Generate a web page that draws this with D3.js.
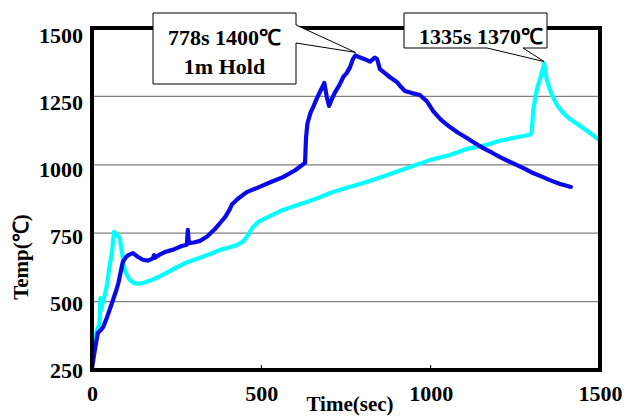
<!DOCTYPE html>
<html>
<head>
<meta charset="utf-8">
<script src="https://cdn.jsdelivr.net/npm/d3@7"></script>
<style>
  html, body { margin: 0; padding: 0; background: #fff; }
  svg { display: block; }
  text { font-family: "Liberation Serif", "Times New Roman", serif; font-weight: bold; fill: #000; }
</style>
</head>
<body>
<svg id="chart" width="624" height="416"></svg>
<script>
// Heating run 1 (blue): time in s, temperature in °C
const run1Time = [0, 8, 17, 25, 33, 45, 59, 70, 78, 85, 91, 100, 107, 121, 136, 150, 165, 180, 183, 186,
  200, 215, 240, 265, 280, 283, 286, 300, 319, 340, 363, 380, 393, 407, 413, 430, 457, 500, 530, 564,
  600, 629, 632, 636, 645, 653, 663, 673, 686, 693, 700, 708, 718, 730, 742, 752, 762, 770, 778, 790,
  805, 821, 835, 842, 850, 865, 880, 900, 912, 924, 945, 968, 989, 1008, 1030, 1057, 1080, 1107, 1130,
  1155, 1180, 1205, 1230, 1255, 1280, 1302, 1330, 1352, 1380, 1414];
const run1Temp = [257, 320, 385, 395, 407, 445, 495, 535, 568, 610, 645, 662, 670, 677, 663, 653, 650, 658, 670, 660,
  672, 681, 690, 703, 708, 762, 714, 716, 722, 738, 765, 790, 809, 838, 855, 875, 900, 922, 938, 955,
  980, 1007, 1100, 1150, 1190, 1211, 1240, 1266, 1299, 1250, 1215, 1240, 1266, 1290, 1321, 1335, 1357, 1385, 1400, 1393,
  1386, 1377, 1392, 1386, 1350, 1335, 1320, 1303, 1285, 1270, 1262, 1255, 1232, 1195, 1165, 1138, 1118, 1098, 1080,
  1061, 1045, 1028, 1013, 999, 984, 970, 956, 944, 931, 919];

// Heating run 2 (cyan)
const run2Time = [0, 3, 10, 15, 22, 25, 27, 33, 38, 45, 50, 59, 65, 72, 80, 83, 86, 89, 93, 97,
  104, 112, 124, 136, 155, 177, 200, 224, 250, 275, 300, 325, 357, 378, 405, 428, 445, 457, 466, 476,
  490, 501, 530, 564, 600, 634, 670, 703, 750, 811, 870, 939, 1000, 1057, 1107, 1155, 1205, 1250, 1293, 1298,
  1303, 1313, 1328, 1335, 1343, 1352, 1362, 1375, 1392, 1410, 1432, 1455, 1475, 1500];
const run2Temp = [300, 349, 380, 396, 420, 513, 470, 505, 525, 565, 615, 680, 755, 748, 735, 725, 700, 677, 640, 615,
  595, 579, 568, 565, 570, 579, 592, 608, 625, 641, 652, 663, 678, 689, 698, 707, 718, 736, 755, 773,
  790, 798, 815, 835, 850, 864, 880, 897, 915, 937, 962, 992, 1018, 1036, 1058, 1070, 1088, 1100, 1110, 1116,
  1200, 1273, 1335, 1370, 1310, 1275, 1245, 1215, 1189, 1168, 1150, 1130, 1112, 1088];

const xTicks = [0, 500, 1000, 1500];
const yTicks = [250, 500, 750, 1000, 1250, 1500];
const gridTemps = [500, 750, 1000, 1250];

const xLabel = "Time(sec)";
const yLabel = "Temp(\u2103)";

// Callouts: the point they mark and their text lines
const callouts = [
  { t: 778, temp: 1400, lines: ["778s 1400\u2103", "1m Hold"] },
  { t: 1335, temp: 1370, lines: ["1335s 1370\u2103"] }
];

const svg = d3.select("#chart");
const plotL = 92, plotR = 600, plotT = 28, plotB = 370;

const x = d3.scaleLinear().domain([0, 1500]).range([plotL, plotR]);
const y = d3.scaleLinear().domain([250, 1500]).range([plotB, plotT]);
// tick labels sit slightly tighter than the gridlines
const yLab = d3.scaleLinear().domain([250, 1500]).range([plotB, 35]);

// gridlines
svg.append("g").selectAll("line").data(gridTemps).join("line")
  .attr("x1", plotL).attr("x2", plotR)
  .attr("y1", d => y(d)).attr("y2", d => y(d))
  .attr("stroke", "#808080").attr("stroke-width", 1.3);

// small inward ticks on the time axis
svg.append("g").selectAll("line").data(xTicks.slice(1, -1)).join("line")
  .attr("x1", d => x(d)).attr("x2", d => x(d))
  .attr("y1", plotB).attr("y2", plotB - 5)
  .attr("stroke", "#000").attr("stroke-width", 1);

// temperature curves
const line = d3.line().x(d => x(d[0])).y(d => y(d[1]));
const run2 = run2Time.map((t, i) => [t, run2Temp[i]]);
const run1 = run1Time.map((t, i) => [t, run1Temp[i]]);

svg.append("path").datum(run2).attr("d", line)
  .attr("fill", "none").attr("stroke", "#00ffff").attr("stroke-width", 4.2)
  .attr("stroke-linejoin", "round").attr("stroke-linecap", "round");
svg.append("path").datum(run1).attr("d", line)
  .attr("fill", "none").attr("stroke", "#0a0ae8").attr("stroke-width", 4.2)
  .attr("stroke-linejoin", "round").attr("stroke-linecap", "round");

// frame
svg.append("rect").attr("x", plotL).attr("y", plotT)
  .attr("width", plotR - plotL).attr("height", plotB - plotT)
  .attr("fill", "none").attr("stroke", "#000").attr("stroke-width", 4);

// axis tick labels
const yAxis = svg.append("g").attr("transform", `translate(${plotL},0)`)
  .call(d3.axisLeft(yLab).tickValues(yTicks).tickSize(0).tickPadding(9).tickFormat(d3.format("d")));
const xAxis = svg.append("g").attr("transform", `translate(0,${plotB})`)
  .call(d3.axisBottom(x).tickValues(xTicks).tickSize(0).tickPadding(15).tickFormat(d3.format("d")));
[yAxis, xAxis].forEach(g => {
  g.select(".domain").remove();
  g.selectAll("text").attr("font-size", 22).attr("font-family", "Liberation Serif, serif").attr("font-weight", "bold");
});

// axis titles
svg.append("text").attr("x", 350).attr("y", 411).attr("text-anchor", "middle")
  .attr("font-size", 21).text(xLabel);
svg.append("text").attr("transform", "translate(28,257) rotate(-90)").attr("text-anchor", "middle")
  .attr("font-size", 21).text(yLabel);

// callout 1: box with a wedge on its right side
{
  const c = callouts[0];
  const tx = x(c.t), ty = y(c.temp) - 3;
  const bx0 = 153, bx1 = 296, by0 = 13, by1 = 84;
  svg.append("path")
    .attr("d", `M${bx0},${by0}H${bx1}V25L${tx},${ty}L${bx1},43V${by1}H${bx0}Z`)
    .attr("fill", "#fff").attr("stroke", "#000").attr("stroke-width", 1);
  svg.append("text").attr("x", (bx0 + bx1) / 2).attr("y", 45).attr("text-anchor", "middle")
    .attr("font-size", 22).text(c.lines[0]);
  svg.append("text").attr("x", (bx0 + bx1) / 2).attr("y", 74).attr("text-anchor", "middle")
    .attr("font-size", 22).text(c.lines[1]);
}
// callout 2: box with a wedge under it
{
  const c = callouts[1];
  const tx = x(c.t), ty = y(c.temp) - 2;
  const bx0 = 404, bx1 = 547, by0 = 13, by1 = 48;
  svg.append("path")
    .attr("d", `M${bx0},${by0}H${bx1}V${by1}H523L${tx},${ty}L487,${by1}H${bx0}Z`)
    .attr("fill", "#fff").attr("stroke", "#000").attr("stroke-width", 1);
  svg.append("text").attr("x", 419).attr("y", 44)
    .attr("font-size", 22).text(c.lines[0]);
}
</script>
</body>
</html>
